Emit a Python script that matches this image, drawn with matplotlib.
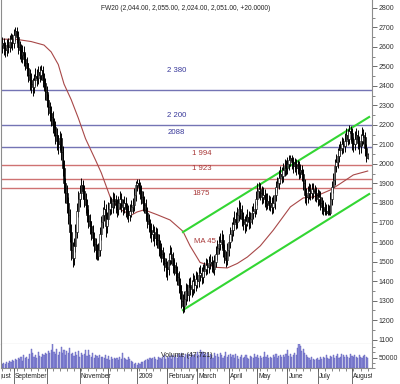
import matplotlib
matplotlib.use("Agg")
from matplotlib import pyplot as plt
from matplotlib.ticker import MultipleLocator, FixedLocator

plt.rcParams["font.family"] = ["Liberation Sans", "DejaVu Sans"]

# daily FW20 candles, Aug 2008 - Aug 2009
first_open = 2610
closes = [
    2620, 2595, 2585, 2610, 2600, 2625, 2640, 2620, 2660, 2680,
    2650, 2600, 2585, 2560, 2575, 2540, 2520, 2490, 2455, 2430,
    2410, 2395, 2430, 2450, 2440, 2470, 2455, 2480, 2430, 2415,
    2370, 2330, 2290, 2260, 2240, 2200, 2190, 2150, 2120, 2100,
    2135, 2060, 1980, 1900, 1850, 1800, 1740, 1650, 1560, 1520,
    1580, 1650, 1760, 1820, 1850, 1890, 1860, 1820, 1790, 1740,
    1710, 1680, 1650, 1620, 1590, 1560, 1530, 1560, 1640, 1700,
    1740, 1770, 1680, 1720, 1770, 1800, 1780, 1820, 1810, 1790,
    1770, 1800, 1820, 1790, 1780, 1800, 1770, 1760, 1740, 1760,
    1780, 1790, 1840, 1890, 1900, 1880, 1860, 1830, 1800, 1790,
    1750, 1710, 1690, 1660, 1640, 1650, 1620, 1640, 1610, 1570,
    1560, 1540, 1520, 1490, 1470, 1460, 1510, 1540, 1520, 1480,
    1470, 1440, 1420, 1380, 1350, 1300, 1270, 1310, 1350, 1330,
    1380, 1370, 1360, 1400, 1380, 1410, 1400, 1430, 1440, 1420,
    1450, 1460, 1480, 1470, 1490, 1500, 1480, 1460, 1500, 1540,
    1570, 1590, 1600, 1610, 1560, 1520, 1510, 1560, 1600, 1640,
    1660, 1690, 1720, 1700, 1740, 1770, 1760, 1720, 1700, 1690,
    1710, 1730, 1700, 1720, 1750, 1760, 1770, 1820, 1860, 1870,
    1850, 1830, 1840, 1820, 1800, 1810, 1790, 1800, 1780, 1800,
    1840, 1880, 1900, 1930, 1950, 1940, 1970, 1990, 1980, 2000,
    2020, 2030, 2010, 1990, 2000, 1980, 1990, 1960, 1970, 1950,
    1900, 1840, 1830, 1850, 1860, 1850, 1870, 1860, 1850, 1840,
    1820, 1830, 1800, 1780, 1770, 1760, 1750, 1760, 1750, 1820,
    1880, 1920, 1990, 2010, 2040, 2070, 2080, 2100, 2090, 2120,
    2150, 2130, 2170, 2160, 2110, 2100, 2130, 2150, 2110, 2090,
    2120, 2150, 2140, 2080, 2031, 2051,
]
highs = [
    2650, 2645, 2625, 2640, 2645, 2660, 2670, 2665, 2690, 2700,
    2700, 2680, 2630, 2615, 2610, 2605, 2570, 2550, 2520, 2485,
    2465, 2440, 2460, 2490, 2485, 2500, 2500, 2510, 2505, 2465,
    2440, 2400, 2360, 2320, 2295, 2270, 2235, 2220, 2185, 2150,
    2170, 2160, 2090, 2020, 1930, 1890, 1830, 1770, 1690, 1600,
    1620, 1690, 1800, 1860, 1890, 1930, 1920, 1890, 1850, 1820,
    1770, 1745, 1710, 1685, 1650, 1620, 1590, 1595, 1675, 1735,
    1780, 1815, 1795, 1755, 1805, 1835, 1830, 1855, 1850, 1840,
    1820, 1835, 1860, 1850, 1820, 1835, 1830, 1800, 1790, 1795,
    1815, 1825, 1875, 1915, 1925, 1925, 1910, 1890, 1860, 1835,
    1820, 1780, 1745, 1720, 1695, 1690, 1680, 1675, 1670, 1640,
    1610, 1595, 1575, 1550, 1520, 1505, 1545, 1585, 1575, 1550,
    1515, 1500, 1475, 1450, 1415, 1380, 1335, 1350, 1390, 1385,
    1415, 1420, 1405, 1440, 1430, 1450, 1445, 1470, 1480, 1470,
    1485, 1500, 1520, 1515, 1530, 1540, 1530, 1510, 1535, 1580,
    1610, 1630, 1645, 1660, 1640, 1590, 1555, 1595, 1635, 1675,
    1700, 1730, 1760, 1755, 1780, 1815, 1805, 1790, 1755, 1735,
    1745, 1770, 1760, 1755, 1785, 1800, 1810, 1860, 1900, 1910,
    1900, 1885, 1880, 1870, 1850, 1850, 1840, 1835, 1830, 1840,
    1875, 1915, 1935, 1970, 1990, 1985, 2005, 2025, 2020, 2035,
    2045, 2046, 2045, 2035, 2030, 2025, 2020, 2015, 2000, 1995,
    1975, 1925, 1875, 1885, 1900, 1895, 1905, 1900, 1890, 1880,
    1870, 1865, 1860, 1830, 1815, 1805, 1795, 1795, 1790, 1855,
    1915, 1955, 2025, 2050, 2080, 2105, 2120, 2140, 2135, 2160,
    2185, 2180, 2200, 2195, 2185, 2140, 2170, 2185, 2175, 2145,
    2155, 2190, 2180, 2165, 2100, 2055,
]
lows = [
    2570, 2560, 2550, 2555, 2570, 2575, 2595, 2585, 2595, 2630,
    2620, 2565, 2540, 2525, 2520, 2500, 2480, 2450, 2420, 2380,
    2365, 2350, 2365, 2400, 2400, 2410, 2420, 2430, 2395, 2375,
    2330, 2290, 2250, 2220, 2195, 2160, 2145, 2100, 2070, 2050,
    2070, 2020, 1940, 1850, 1800, 1750, 1690, 1600, 1510, 1472,
    1480, 1550, 1620, 1730, 1780, 1820, 1820, 1780, 1750, 1700,
    1670, 1640, 1610, 1580, 1550, 1515, 1508, 1510, 1530, 1610,
    1670, 1710, 1626, 1645, 1685, 1740, 1745, 1750, 1775, 1750,
    1730, 1740, 1770, 1755, 1740, 1750, 1730, 1720, 1705, 1710,
    1730, 1750, 1760, 1810, 1860, 1845, 1820, 1795, 1760, 1750,
    1715, 1670, 1650, 1620, 1600, 1605, 1580, 1585, 1570, 1530,
    1520, 1500, 1480, 1450, 1420, 1405, 1430, 1480, 1485, 1440,
    1430, 1400, 1380, 1340, 1310, 1260, 1236, 1240, 1275, 1295,
    1300, 1330, 1320, 1330, 1340, 1350, 1365, 1370, 1400, 1385,
    1390, 1420, 1430, 1435, 1440, 1460, 1445, 1441, 1430, 1470,
    1510, 1540, 1560, 1570, 1525, 1492, 1470, 1480, 1530, 1570,
    1605, 1630, 1660, 1665, 1670, 1710, 1720, 1680, 1662, 1645,
    1655, 1680, 1665, 1670, 1690, 1720, 1730, 1745, 1790, 1825,
    1815, 1795, 1800, 1780, 1764, 1770, 1764, 1760, 1745, 1750,
    1770, 1810, 1850, 1870, 1895, 1905, 1910, 1940, 1945, 1950,
    1970, 1990, 1975, 1955, 1960, 1945, 1950, 1925, 1930, 1915,
    1865, 1800, 1790, 1800, 1820, 1815, 1820, 1825, 1810, 1805,
    1785, 1790, 1765, 1745, 1740, 1738, 1738, 1738, 1740, 1740,
    1790, 1850, 1890, 1960, 1980, 2010, 2040, 2050, 2055, 2060,
    2090, 2095, 2100, 2120, 2070, 2060, 2070, 2100, 2075, 2050,
    2055, 2090, 2100, 2040, 2010, 2024,
]
# volume, thousands of contracts
volumes = [
    20, 25, 18, 30, 22, 35, 28, 40, 32, 45,
    38, 50, 42, 55, 35, 60, 48, 52, 45, 65,
    90, 70, 55, 62, 48, 75, 58, 52, 68, 60,
    72, 65, 80, 70, 85, 125, 75, 68, 90, 62,
    78, 100, 70, 85, 60, 80, 72, 95, 65, 70,
    58, 75, 62, 80, 55, 70, 60, 65, 85, 58,
    88, 60, 55, 70, 50, 62, 58, 48, 60, 52,
    55, 48, 62, 45, 58, 40, 52, 45, 50, 42,
    48, 40, 52, 45, 72, 50, 42, 38, 55, 45,
    35, 30, 18, 22, 15, 25, 20, 30, 28, 35,
    40, 45, 38, 50, 42, 48, 52, 45, 40, 55,
    48, 45, 52, 60, 42, 55, 50, 58, 45, 62,
    55, 60, 50, 65, 58, 70, 62, 55, 68, 60,
    65, 55, 72, 60, 52, 68, 75, 62, 85, 70,
    78, 65, 60, 72, 55, 68, 62, 50, 70, 58,
    65, 55, 72, 60, 48, 58, 75, 52, 62, 68,
    55, 60, 50, 65, 58, 45, 52, 60, 48, 55,
    62, 50, 45, 58, 52, 48, 65, 55, 60, 50,
    58, 48, 55, 75, 52, 60, 50, 55, 48, 62,
    55, 65, 50, 58, 62, 52, 60, 55, 68, 88,
    58, 65, 52, 60, 70, 62, 95, 115, 105, 82,
    90, 72, 60, 55, 48, 40, 52, 45, 38, 42,
    48, 40, 52, 45, 55, 48, 60, 50, 45, 58,
    52, 62, 48, 58, 65, 50, 55, 68, 60, 52,
    62, 55, 48, 65, 58, 52, 60, 55, 48, 62,
    55, 50, 58, 62, 52, 48,
]

# 45-day moving average
ma_days = [0, 9, 20, 29, 34, 39, 43, 48, 53, 58, 65, 69, 76, 83, 90, 94, 99,
           108, 117, 126, 131, 138, 149, 157, 164, 171, 180, 189, 201, 210,
           217, 222, 229, 236, 245, 255]
ma_values = [2640, 2640, 2628, 2610, 2575, 2510, 2410, 2330, 2235, 2130, 2020,
             1955, 1815, 1764, 1738, 1754, 1765, 1740, 1713, 1655, 1580, 1495,
             1470, 1467, 1490, 1523, 1580, 1660, 1780, 1826, 1831, 1845, 1867,
             1900, 1944, 1964]

# support / resistance levels
blue_levels = [2380, 2200, 2088]
red_levels = [1994, 1923, 1875]

# trend channel end points (day, value)
channel_days = [126, 256]
channel_upper = [1651, 2241]
channel_lower = [1251, 1846]

month_days = [8, 31, 54, 74, 94, 115, 136, 158, 178, 199, 220, 244]
label_days = [-8.5, 8, 54, 94, 115, 136, 158, 178, 199, 220, 244]
label_texts = ["August", "September", "November", "2009", "February", "March",
               "April", "May", "June", "July", "August"]

title = "FW20 (2,044.00, 2,055.00, 2,024.00, 2,051.00, +20.0000)"

n = len(closes)
days = list(range(n))
opens = [first_open] + closes[:-1]

frame_color = "#8c8c8c"
font_size = 5

fig = plt.figure(figsize=(4, 3.84), dpi=100)
ax = fig.add_axes([0.0025, 0.1042, 0.9275, 0.8958])
ax_vol = fig.add_axes([0.0025, 0.0417, 0.9275, 0.0625], sharex=ax)
ax_lab = fig.add_axes([0.0025, 0.0, 0.9275, 0.0417], sharex=ax)

# price panel
for lvl in blue_levels:
    ax.axhline(lvl, color="#7474b4", lw=1.0, zorder=1)
for lvl in red_levels:
    ax.axhline(lvl, color="#cf7272", lw=1.0, zorder=1)

ax.plot(ma_days, ma_values, color="#a84848", lw=0.8, zorder=2)
ax.plot(channel_days, channel_upper, color="#33d633", lw=1.5, zorder=2)
ax.plot(channel_days, channel_lower, color="#33d633", lw=1.5, zorder=2)

ax.vlines(days, lows, highs, color="black", lw=0.7, zorder=3)
body_bottom = [min(o, c) for o, c in zip(opens, closes)]
body_height = [max(abs(c - o), 4) for o, c in zip(opens, closes)]
body_color = ["white" if c >= o else "black" for o, c in zip(opens, closes)]
ax.bar(days, body_height, bottom=body_bottom, width=1.0, color=body_color,
       edgecolor="black", linewidth=0.4, zorder=4)

ax.text(121.5, 2477, "2 380", color="#38389a", fontsize=5.6, ha="center", va="center")
ax.text(121.5, 2251, "2 200", color="#38389a", fontsize=5.6, ha="center", va="center")
ax.text(121.5, 2159, "2088", color="#38389a", fontsize=5.6, ha="center", va="center")
ax.text(139, 2056, "1 994", color="#a83838", fontsize=5.6, ha="center", va="center")
ax.text(139, 1979, "1 923", color="#a83838", fontsize=5.6, ha="center", va="center")
ax.text(139, 1851, "1875", color="#a83838", fontsize=5.6, ha="center", va="center")
ax.text(141.5, 1605, "MA 45", color="#a83838", fontsize=5.6, ha="center", va="center")
ax.text(69, 2795, title, color="#222222", fontsize=4.8, ha="left", va="center")

ax.set_xlim(-1, 258)
ax.set_ylim(1077, 2841)
ax.yaxis.tick_right()
ax.yaxis.set_major_locator(MultipleLocator(100))
ax.yaxis.set_minor_locator(MultipleLocator(50))
ax.tick_params(axis="y", which="major", labelsize=font_size, length=3.5,
               width=0.6, pad=1.5, color="#555555", labelcolor="#333333")
ax.tick_params(axis="y", which="minor", length=2, width=0.5, color="#555555")
ax.tick_params(axis="x", which="both", bottom=False, labelbottom=False)
for side in ["left", "right", "bottom"]:
    ax.spines[side].set_color(frame_color)
    ax.spines[side].set_linewidth(0.8)
ax.spines["top"].set_visible(False)

# volume panel
ax_vol.bar(days, volumes, width=0.8, color="#9191dc", edgecolor="#5c5cb8",
           linewidth=0.3)
ax_vol.set_ylim(0, 115)
ax_vol.yaxis.tick_right()
ax_vol.yaxis.set_major_locator(FixedLocator([50]))
ax_vol.yaxis.set_minor_locator(MultipleLocator(25))
ax_vol.set_yticklabels(["50000"])
ax_vol.tick_params(axis="y", which="major", labelsize=font_size, length=3.5,
                   width=0.6, pad=1.5, color="#555555", labelcolor="#333333")
ax_vol.tick_params(axis="y", which="minor", length=2, width=0.5, color="#555555")
ax_vol.xaxis.set_minor_locator(MultipleLocator(5))
ax_vol.tick_params(axis="x", which="both", bottom=True, labelbottom=False,
                   direction="out", length=2.5, width=0.5, color="#555555")
ax_vol.set_xticks(month_days)
ax_vol.text(110.5, 62, "Volume (47,721)", color="#222222", fontsize=5,
            ha="left", va="center")
for side in ["left", "right", "bottom"]:
    ax_vol.spines[side].set_color(frame_color)
    ax_vol.spines[side].set_linewidth(0.8)
ax_vol.spines["top"].set_visible(False)

# month labels row
ax_lab.set_ylim(0, 1)
ax_lab.axis("off")
ax_lab.vlines(month_days, 0, 1, color="#555555", lw=0.6)
for d, txt in zip(label_days, label_texts):
    ax_lab.text(d + 0.8, 0.45, txt, fontsize=4.8, color="#222222",
                ha="left", va="center", clip_on=True)

fig.savefig("out.png", dpi=100, facecolor="white")
